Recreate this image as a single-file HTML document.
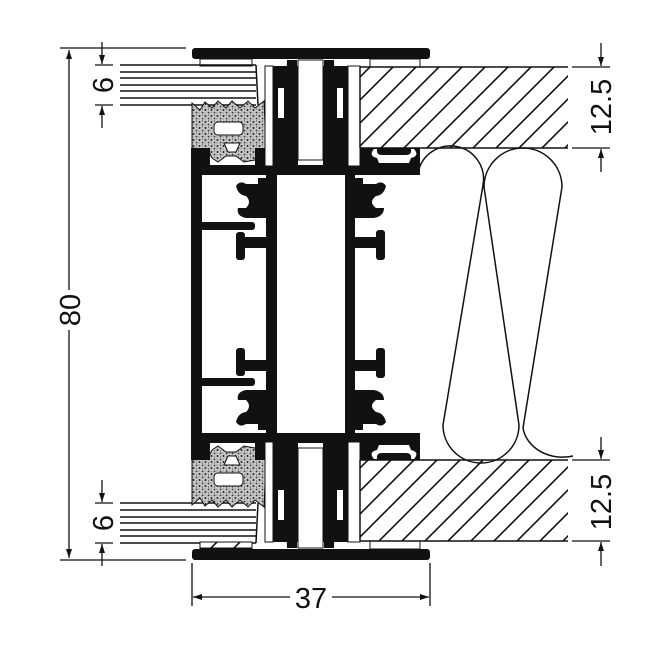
<!DOCTYPE html>
<html><head><meta charset="utf-8"><style>
html,body{margin:0;padding:0;background:#fff}
svg{display:block}
text{font-family:"Liberation Sans",sans-serif;fill:#111}
</style></head><body>
<svg width="660" height="660" viewBox="0 0 660 660" xmlns="http://www.w3.org/2000/svg">
<defs>
<pattern id="hat" patternUnits="userSpaceOnUse" width="23" height="23">
<rect width="23" height="23" fill="#fff"/>
<line x1="0" y1="23" x2="23" y2="0" stroke="#111" stroke-width="1.6"/>
<line x1="-3" y1="3" x2="3" y2="-3" stroke="#111" stroke-width="1.6"/>
<line x1="20" y1="26" x2="26" y2="20" stroke="#111" stroke-width="1.6"/>
</pattern>
<pattern id="spk" patternUnits="userSpaceOnUse" width="6" height="6">
<rect width="6" height="6" fill="#c8c8c8"/><circle cx="1.5" cy="2" r="1" fill="#222"/><circle cx="4.5" cy="4.5" r="0.9" fill="#333"/><circle cx="4.5" cy="1" r="0.6" fill="#444"/><circle cx="1" cy="5" r="0.5" fill="#444"/>
</pattern>
<marker id="ar" markerWidth="10" markerHeight="10" refX="9" refY="5" orient="auto" markerUnits="userSpaceOnUse">
<path d="M0,2 L9,5 L0,8 Z" fill="#111"/></marker>
<g id="half">
 <rect x="192" y="48" width="238" height="11" rx="3" fill="#111"/>
 <rect x="200" y="59" width="52" height="7" fill="#fff" stroke="#111" stroke-width="1"/>
 <rect x="370" y="59" width="50" height="8" fill="#fff" stroke="#111" stroke-width="1"/>
 <g stroke="#111" stroke-width="1.5">
  <line x1="120" y1="65" x2="256" y2="65"/><line x1="120" y1="72" x2="256" y2="72"/>
  <line x1="120" y1="78" x2="256" y2="78"/><line x1="120" y1="85" x2="256" y2="85"/>
  <line x1="120" y1="91" x2="256" y2="91"/><line x1="120" y1="98" x2="256" y2="98"/>
  <line x1="120" y1="105" x2="256" y2="105"/>
 </g>
 <line x1="256" y1="65" x2="258" y2="105" stroke="#111" stroke-width="1.5"/>
 <path d="M192,103 L200,110 L205,102 L212,108 L218,101 L226,108 L232,101 L240,108 L248,101 L255,108 L264,101 L266,148 L257,150 L255,160 L244,162 L236,156 L226,156 L218,162 L212,158 L208,150 L192,148 Z" fill="url(#spk)" stroke="#111" stroke-width="1"/>
 <rect x="214" y="122" width="29" height="13" rx="4" fill="#fff" stroke="#111" stroke-width="1"/>
 <path d="M224,143 L240,143 L236,152 L228,152 Z" fill="#fff" stroke="#111"/>
 <rect x="191" y="148" width="11" height="160" fill="#111"/>
 <rect x="200" y="148" width="10" height="20" fill="#111"/>
 <rect x="255" y="148" width="10" height="20" fill="#111"/>
 <rect x="200" y="165" width="220" height="10" rx="2" fill="#111"/>
 <rect x="265" y="66" width="8" height="100" fill="#fff" stroke="#111" stroke-width="1"/>
 <rect x="273" y="66" width="25" height="100" fill="#111"/>
 <rect x="278" y="88" width="6" height="30" fill="#fff"/>
 <rect x="323" y="66" width="25" height="100" fill="#111"/>
 <rect x="337" y="88" width="6" height="30" fill="#fff"/>
 <rect x="298" y="60" width="25" height="100" fill="#fff" stroke="#111" stroke-width="1"/>
 <path d="M287,60 L297,60 L297,142 L292,140 L285,128 Z" fill="#111"/>
 <path d="M324,60 L334,60 L336,128 L329,140 L324,142 Z" fill="#111"/>
 <rect x="348" y="66" width="12" height="100" fill="#fff" stroke="#111" stroke-width="1"/>
 <path d="M360,148 L420,148 L420,175 L360,175 Z" fill="#111"/>
 <path d="M374,149 Q368,156 377,158 L379,163 L409,163 L411,158 Q420,156 414,149 L411,149 Q412,155 406,155 L382,155 Q376,155 377,149 Z" fill="#fff"/>
 <rect x="266" y="175" width="11" height="135" fill="#111"/>
 <rect x="345" y="175" width="10" height="135" fill="#111"/>
 <path d="M266,178 L266,218 L246,218 Q236,216 238,208 L246,208 Q252,202 246,196 Q238,195 236,186 Q240,180 246,184 L258,184 L258,178 Z" fill="#111"/>
 <path d="M355,178 L355,218 L374,218 Q384,216 384,208 L376,208 Q368,202 376,196 Q384,195 386,186 Q382,180 376,184 L363,184 L363,178 Z" fill="#111"/>
 <rect x="200" y="222" width="55" height="8" rx="3" fill="#111"/>
 <rect x="236" y="232" width="9" height="28" rx="3" fill="#111"/>
 <rect x="236" y="237" width="31" height="11" fill="#111"/>
 <rect x="376" y="230" width="9" height="30" rx="3" fill="#111"/>
 <rect x="355" y="237" width="30" height="11" fill="#111"/>
</g>
</defs>

<use href="#half"/>
<use href="#half" transform="matrix(1 0 0 -1 0 608)"/>
<rect x="200" y="542" width="52" height="6" fill="url(#hat)" stroke="#111" stroke-width="1"/>
<rect x="266" y="296" width="11" height="16" fill="#111"/>
<rect x="345" y="296" width="10" height="16" fill="#111"/>
<rect x="191" y="296" width="11" height="16" fill="#111"/>

<g stroke="#111" stroke-width="1.5">
 <rect x="360" y="67" width="208" height="81" fill="url(#hat)" stroke="none"/>
 <line x1="360" y1="67" x2="568" y2="67"/><line x1="360" y1="148" x2="568" y2="148"/><line x1="360" y1="67" x2="360" y2="148"/>
 <rect x="360" y="460" width="208" height="81" fill="url(#hat)" stroke="none"/>
 <line x1="360" y1="460" x2="568" y2="460"/><line x1="360" y1="541" x2="568" y2="541"/><line x1="360" y1="460" x2="360" y2="541"/>
</g>

<path d="M418,173 A33 33 0 0 1 483 185 L443 425 A38 38 0 0 0 519 425 L484 187 A39 39 0 0 1 562 187 L523 428 A40 34 0 0 0 573 456" fill="none" stroke="#111" stroke-width="1.5"/>

<g stroke="#111" stroke-width="1.3" fill="none">
 <line x1="60" y1="48" x2="186" y2="48"/><line x1="60" y1="560" x2="186" y2="560"/>
 <line x1="69" y1="290" x2="69" y2="50" marker-end="url(#ar)"/>
 <line x1="69" y1="330" x2="69" y2="558" marker-end="url(#ar)"/>
 <line x1="95" y1="65" x2="113" y2="65"/><line x1="95" y1="105" x2="113" y2="105"/>
 <line x1="102" y1="42" x2="102" y2="64" marker-end="url(#ar)"/>
 <line x1="102" y1="128" x2="102" y2="106" marker-end="url(#ar)"/>
 <line x1="95" y1="503" x2="113" y2="503"/><line x1="95" y1="543" x2="113" y2="543"/>
 <line x1="102" y1="480" x2="102" y2="502" marker-end="url(#ar)"/>
 <line x1="102" y1="566" x2="102" y2="544" marker-end="url(#ar)"/>
 <line x1="572" y1="67" x2="610" y2="67"/><line x1="572" y1="148" x2="610" y2="148"/>
 <line x1="601" y1="43" x2="601" y2="66" marker-end="url(#ar)"/>
 <line x1="601" y1="172" x2="601" y2="149" marker-end="url(#ar)"/>
 <line x1="572" y1="460" x2="610" y2="460"/><line x1="572" y1="541" x2="610" y2="541"/>
 <line x1="601" y1="437" x2="601" y2="459" marker-end="url(#ar)"/>
 <line x1="601" y1="566" x2="601" y2="542" marker-end="url(#ar)"/>
 <line x1="192" y1="563" x2="192" y2="606"/><line x1="430" y1="563" x2="430" y2="606"/>
 <line x1="290" y1="597" x2="193" y2="597" marker-end="url(#ar)"/>
 <line x1="332" y1="597" x2="429" y2="597" marker-end="url(#ar)"/>
</g>
<text x="311" y="608" font-size="29" text-anchor="middle">37</text>
<text transform="translate(80,310) rotate(-90)" font-size="29" text-anchor="middle">80</text>
<text transform="translate(113,85) rotate(-90)" font-size="29" text-anchor="middle">6</text>
<text transform="translate(113,523) rotate(-90)" font-size="29" text-anchor="middle">6</text>
<text transform="translate(611,107) rotate(-90)" font-size="29" text-anchor="middle">12.5</text>
<text transform="translate(611,502) rotate(-90)" font-size="29" text-anchor="middle">12.5</text>
</svg>
</body></html>
